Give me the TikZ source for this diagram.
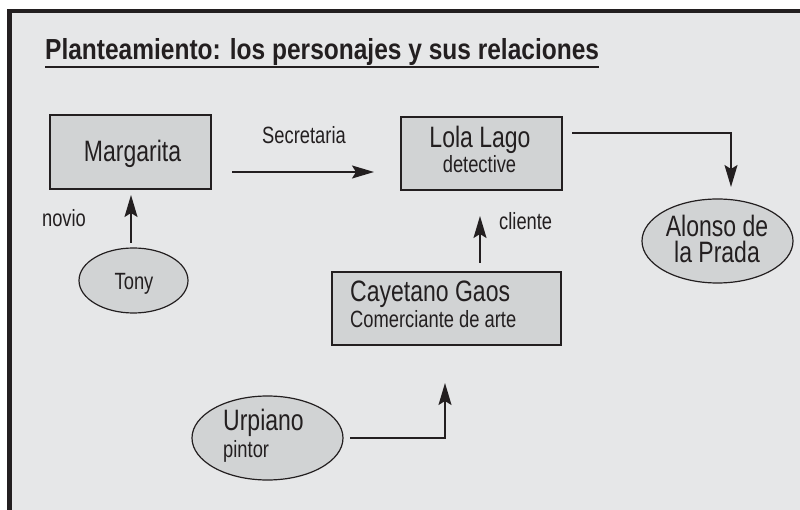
\documentclass[tikz,border=0pt]{standalone}
\usepackage{fontspec}
\setmainfont{Liberation Sans}[FakeStretch=0.78]
\newfontfamily\titlefont{Liberation Sans}[FakeStretch=0.845]
\usetikzlibrary{arrows.meta,shapes.geometric}
\definecolor{bgc}{HTML}{E6E7E8}
\definecolor{boxc}{HTML}{D1D3D4}
\definecolor{inkc}{HTML}{231F20}
\begin{document}
\begin{tikzpicture}[x=1pt,y=-1pt,
  boxnode/.style={draw=inkc,line width=1.2pt,fill=boxc,rectangle,inner sep=0pt},
  ellnode/.style={draw=inkc,line width=1.2pt,fill=boxc,ellipse,inner sep=0pt},
  bigtxt/.style={font=\fontsize{29.5}{25.5}\selectfont,text=inkc,inner sep=0pt},
  smalltxt/.style={font=\fontsize{23.5}{25}\selectfont,text=inkc,inner sep=0pt},
  arr/.style={draw=inkc,line width=1.5pt,-{Stealth[length=22pt,width=13pt,inset=4pt]}}]
\useasboundingbox (0,0) rectangle (800,510);
\clip (0,0) rectangle (800,510);
\draw[inkc,line width=4.5pt,fill=bgc] (9.5,11) rectangle (850,560);
% title
\node[anchor=base west,inner sep=0pt,text=inkc,font=\fontsize{29}{30}\selectfont\titlefont\bfseries] (title) at (45,60) {Planteamiento: los personajes y sus relaciones};
\draw[inkc,line width=2pt] ([yshift=-7pt]title.base west) -- ([yshift=-7pt]title.base east);
% shapes
\node[boxnode,minimum width=161pt,minimum height=74pt] (marg) at (130.5,152) {};
\node[boxnode,minimum width=161pt,minimum height=73pt] (lola) at (481.5,153.5) {};
\node[boxnode,minimum width=229pt,minimum height=73pt] (caye) at (446.5,308.5) {};
\node[ellnode,minimum width=109pt,minimum height=65pt] (tony) at (133.5,280.5) {};
\node[ellnode,minimum width=151pt,minimum height=84pt] (alonso) at (717.5,241) {};
\node[ellnode,minimum width=151pt,minimum height=84pt] (urp) at (267.5,438) {};
% texts
\node[bigtxt,anchor=base] (margt) at (132.5,161.5) {Margarita};
\node[bigtxt,anchor=base] (lolat) at (480,148) {Lola Lago};
\node[smalltxt,anchor=base] (lolad) at (479.5,173) {detective};
\node[bigtxt,anchor=base west] (cayet) at (350,302) {Cayetano Gaos};
\node[smalltxt,anchor=base west] (cayed) at (350,328) {Comerciante de arte};
\node[smalltxt,anchor=base] (tonyt) at (134,290) {Tony};
\node[bigtxt,align=center,anchor=center] (alot) at (717,239) {Alonso de\\la Prada};
\node[bigtxt,anchor=base west] (urpt) at (223,430) {Urpiano};
\node[smalltxt,anchor=base west] (urpd) at (223,457) {pintor};
\node[smalltxt,anchor=base] (secl) at (304,144) {Secretaria};
\node[smalltxt,anchor=base] (novl) at (64,227) {novio};
\node[smalltxt,anchor=base west] (clil) at (499,230) {cliente};
% connector ends
\coordinate (s1) at (232,172); \coordinate (s2) at (374,172);
\coordinate (a1) at (572,133); \coordinate (a2) at (731,187);
\coordinate (c1) at (480,263); \coordinate (c2) at (480,216);
\coordinate (n1) at (131,243); \coordinate (n2) at (131,195);
\coordinate (u1) at (350,438); \coordinate (u2) at (445,383);
% connectors
\draw[arr] (s1) -- (s2);
\draw[arr] (a1) -| (a2);
\draw[arr] (c1) -- (c2);
\draw[arr] (n1) -- (n2);
\draw[arr] (u1) -| (u2);
\end{tikzpicture}
\end{document}
